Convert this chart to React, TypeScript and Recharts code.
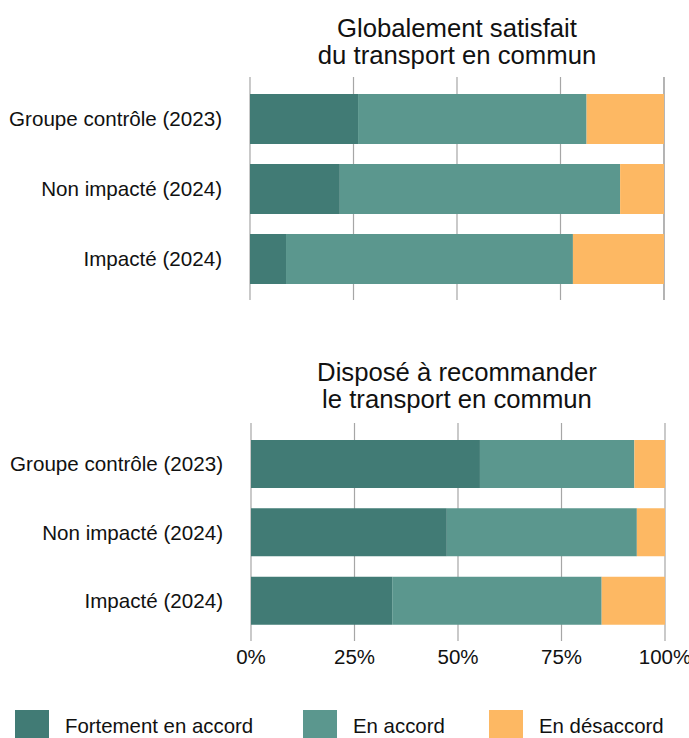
import { Bar, BarChart, CartesianGrid, XAxis, YAxis } from "recharts";

const categories = [
  "Groupe contrôle (2023)",
  "Non impacté (2024)",
  "Impacté (2024)",
];

// Globalement satisfait du transport en commun (%)
const satisfaitFort = [26.1, 21.7, 8.7];
const satisfaitAccord = [55.2, 67.7, 69.3];
const satisfaitDesaccord = [18.7, 10.6, 22.0];

// Disposé à recommander le transport en commun (%)
const recommanderFort = [55.3, 47.3, 34.1];
const recommanderAccord = [37.3, 45.9, 50.6];
const recommanderDesaccord = [7.4, 6.8, 15.3];

const xTicks = [0, 25, 50, 75, 100];

const seriesNames = ["Fortement en accord", "En accord", "En désaccord"];

const COLORS = ["#417b75", "#5b978e", "#fdb863"];
const FONT = "'Liberation Sans', Arial, sans-serif";

const satisfaitData = categories.map((category, i) => ({
  category,
  fort: satisfaitFort[i],
  accord: satisfaitAccord[i],
  desaccord: satisfaitDesaccord[i],
}));

const recommanderData = categories.map((category, i) => ({
  category,
  fort: recommanderFort[i],
  accord: recommanderAccord[i],
  desaccord: recommanderDesaccord[i],
}));

function Panel({
  data,
  top,
  height,
  marginTop,
  left,
  showAxis,
}: {
  data: typeof satisfaitData;
  top: number;
  height: number;
  marginTop: number;
  left: number;
  showAxis: boolean;
}) {
  return (
    <div style={{ position: "absolute", left: 0, top }}>
      <BarChart
        width={689}
        height={height}
        data={data}
        layout="vertical"
        barCategoryGap={10}
        margin={{ top: marginTop, right: 689 - left - 414, left: 0, bottom: 0 }}
      >
        <CartesianGrid horizontal={false} stroke="#a6a6a6" strokeWidth={1.2} />

        <XAxis
          type="number"
          domain={[0, 100]}
          ticks={xTicks}
          hide={!showAxis}
          height={showAxis ? 40 : 0}
          axisLine={false}
          tickLine={false}
          tickSize={0}
          tickMargin={8}
          interval={0}
          tickFormatter={(v) => `${v}%`}
          tick={{ fill: "#111", fontSize: 20.5, fontFamily: FONT }}
        />

        <YAxis
          type="category"
          dataKey="category"
          width={left}
          padding={{ top: 7, bottom: 6 }}
          axisLine={false}
          tickLine={false}
          tickSize={0}
          tickMargin={28}
          interval={0}
          tick={{ fill: "#111", fontSize: 20.6, fontFamily: FONT }}
        />

        <Bar dataKey="fort" stackId="a" fill={COLORS[0]} isAnimationActive={false} />
        <Bar dataKey="accord" stackId="a" fill={COLORS[1]} isAnimationActive={false} />
        <Bar dataKey="desaccord" stackId="a" fill={COLORS[2]} isAnimationActive={false} />
      </BarChart>
    </div>
  );
}

function Title({ lines, top }: { lines: string[]; top: number }) {
  return (
    <div
      style={{
        position: "absolute",
        left: 250,
        top,
        width: 414,
        textAlign: "center",
        fontFamily: FONT,
        fontSize: 25.7,
        lineHeight: "27px",
        color: "#111",
        whiteSpace: "nowrap",
      }}
    >
      {lines.map((l) => (
        <div key={l}>{l}</div>
      ))}
    </div>
  );
}

export default function App() {
  const legendX = [15, 303, 489];

  return (
    <div
      style={{
        position: "absolute",
        left: 0,
        top: 0,
        width: 689,
        height: 738,
        overflow: "hidden",
        background: "#fff",
      }}
    >
      {/* TOP PANEL */}
      <Title lines={["Globalement satisfait", "du transport en commun"]} top={15} />
      <Panel data={satisfaitData} top={0} height={300} marginTop={77} left={250} showAxis={false} />

      {/* BOTTOM PANEL */}
      <Title lines={["Disposé à recommander", "le transport en commun"]} top={359} />
      <Panel data={recommanderData} top={300} height={381} marginTop={123} left={251} showAxis />

      {/* LEGEND */}
      {seriesNames.map((name, i) => (
        <div
          key={name}
          style={{
            position: "absolute",
            left: legendX[i],
            top: 710,
            display: "flex",
            alignItems: "flex-start",
            fontFamily: FONT,
            fontSize: 20.4,
            color: "#111",
          }}
        >
          <div style={{ width: 34, height: 34, background: COLORS[i] }} />
          <div style={{ marginLeft: 16, marginTop: 5, whiteSpace: "nowrap" }}>{name}</div>
        </div>
      ))}
    </div>
  );
}
